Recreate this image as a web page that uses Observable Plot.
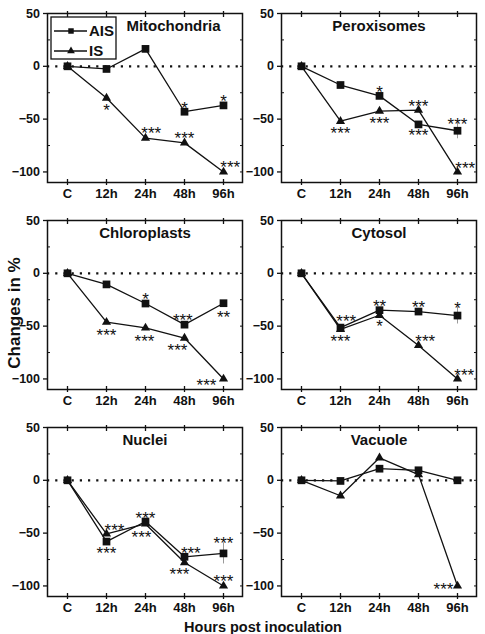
<!DOCTYPE html>
<html>
<head>
<meta charset="utf-8">
<script src="https://cdn.jsdelivr.net/npm/d3@7"></script>
<script src="https://cdn.jsdelivr.net/npm/@observablehq/plot@0.6"></script>
<style>
  html, body { margin: 0; padding: 0; background: #fff; }
  #figure { position: relative; width: 485px; height: 634px; overflow: hidden;
            font-family: "Liberation Sans", Arial, sans-serif; color: #111; }
  #figure svg { position: absolute; max-width: none; }
</style>
</head>
<body>
<div id="figure"></div>
<script>
// ---- data: % change relative to control (C) ----
const times = ["C", "12h", "24h", "48h", "96h"];
const seriesNames = ["AIS", "IS"];
const panelNames = ["Mitochondria", "Peroxisomes", "Chloroplasts", "Cytosol", "Nuclei", "Vacuole"];
const yTicks = [50, 0, -50, -100];
const yMinorTicks = [25, -25, -75];

const mitochondriaAIS = [0, -2.5, 16.5, -43, -37];
const mitochondriaIS  = [0, -30, -68, -72.5, -100];
const peroxisomesAIS  = [0, -17.7, -28, -55, -61];
const peroxisomesIS   = [0, -52, -42.4, -41.5, -100];
const chloroplastsAIS = [0, -10.5, -28.6, -48.6, -28.3];
const chloroplastsIS  = [0, -46.3, -51.7, -61.3, -100];
const cytosolAIS      = [0, -51.4, -34.9, -36.2, -40];
const cytosolIS       = [0, -53, -39.7, -68.3, -100];
const nucleiAIS       = [0, -58, -39, -72.4, -69.2];
const nucleiIS        = [0, -50.8, -41.3, -77.8, -100];
const vacuoleAIS      = [0, -0.6, 11, 9.5, 0];
const vacuoleIS       = [0, -14.6, 21.3, 5.4, -100];

// standard deviations of AIS (only those wider than the markers)
const mitochondriaAISsd = [0, 0, 0, 0, 0];
const peroxisomesAISsd  = [0, 0, 0, 0, 7.6];
const chloroplastsAISsd = [0, 0, 0, 0, 0];
const cytosolAISsd      = [0, 0, 0, 0, 8];
const nucleiAISsd       = [0, 0, 0, 0, 10];
const vacuoleAISsd      = [0, 0, 0, 0, 0];

// significance marks: [series, time, stars]
const mitochondriaStars = [["IS","12h","*"],["AIS","48h","*"],["AIS","96h","*"],["IS","24h","***"],["IS","48h","***"],["IS","96h","***"]];
const peroxisomesStars  = [["AIS","24h","*"],["AIS","48h","***"],["IS","48h","***"],["IS","12h","***"],["IS","24h","***"],["AIS","96h","***"],["IS","96h","***"]];
const chloroplastsStars = [["AIS","24h","*"],["AIS","48h","***"],["AIS","96h","**"],["IS","12h","***"],["IS","24h","***"],["IS","48h","***"],["IS","96h","***"]];
const cytosolStars      = [["AIS","12h","***"],["IS","12h","***"],["AIS","24h","**"],["IS","24h","*"],["AIS","48h","**"],["AIS","96h","*"],["IS","48h","***"],["IS","96h","***"]];
const nucleiStars       = [["IS","12h","***"],["AIS","12h","***"],["AIS","24h","***"],["IS","24h","***"],["AIS","48h","***"],["IS","48h","***"],["AIS","96h","***"],["IS","96h","***"]];
const vacuoleStars      = [["IS","96h","***"]];

// ---- layout ----
const FW = 195, FH = 169;            // inner frame size
const ML = 46, MR = 10, MT = 10, MB = 26;
const framePos = [[47, 13], [281, 13], [47, 220], [281, 220], [47, 427], [281, 427]];
const titleShift = [28.5, 0, 0, 0, 0, 0];
// star label offsets (px) from their marker
const starOffsets = [
  [[0,8.7],[0,-8],[0,-8.3],[5.7,-9],[0,-8.3],[6.7,-9]],
  [[0,-7.7],[0,7.3],[0,-8],[0,8.3],[0,8.3],[0,-11],[7.7,-7.3]],
  [[0,-8.3],[-1.7,-8.3],[0,9.7],[0,8.7],[-1,9],[-7,8],[-17,2.7]],
  [[5.7,-10],[0,7.7],[0,-8.3],[0,6.7],[0,-8.7],[0,-11.3],[6.7,-8.3],[6.7,-7.7]],
  [[8,-7.7],[0,7.3],[0,-7.7],[-4,9],[6.3,-7.7],[-5,7.7],[0,-14.3],[0,-8.3]],
  [[-14,-1]]
];
const STAR_SIZE = 17;
const STAR_LIFT = 0.255 * STAR_SIZE;   // asterisks sit high in the em box
const INK = "#111";

const aisSeries = [mitochondriaAIS, peroxisomesAIS, chloroplastsAIS, cytosolAIS, nucleiAIS, vacuoleAIS];
const isSeries  = [mitochondriaIS, peroxisomesIS, chloroplastsIS, cytosolIS, nucleiIS, vacuoleIS];
const aisSds    = [mitochondriaAISsd, peroxisomesAISsd, chloroplastsAISsd, cytosolAISsd, nucleiAISsd, vacuoleAISsd];
const starSets  = [mitochondriaStars, peroxisomesStars, chloroplastsStars, cytosolStars, nucleiStars, vacuoleStars];

const fig = document.getElementById("figure");
const noText = () => "";

function drawPanel(p) {
  const ais = aisSeries[p], is = isSeries[p];
  const rows = [];
  times.forEach((t, i) => {
    rows.push({series: seriesNames[0], time: t, value: ais[i]});
    rows.push({series: seriesNames[1], time: t, value: is[i]});
  });
  const valueOf = (s, t) => (s === "AIS" ? ais : is)[times.indexOf(t)];
  const sdRows = times.map((t, i) => ({time: t, value: ais[i], sd: aisSds[p][i]})).filter(d => d.sd > 0);

  const starMarks = starSets[p].map(([s, t, label], k) =>
    Plot.text([{time: t, value: valueOf(s, t), label}], {
      x: "time", y: "value", text: "label",
      dx: starOffsets[p][k][0], dy: starOffsets[p][k][1] + STAR_LIFT,
      fontSize: STAR_SIZE, fill: INK
    }));

  const svg = Plot.plot({
    width: ML + FW + MR,
    height: MT + FH + MB,
    marginLeft: ML, marginRight: MR, marginTop: MT, marginBottom: MB,
    x: {type: "point", domain: times, padding: 0.5, label: null},
    y: {domain: [-110, 50], label: null},
    style: {fontFamily: '"Liberation Sans", Arial, sans-serif', color: INK, background: "transparent", overflow: "visible"},
    marks: [
      Plot.ruleY([0], {stroke: INK, strokeWidth: 2.2, strokeDasharray: "2.2,6"}),
      Plot.ruleX(sdRows, {x: "time", y1: d => d.value - d.sd, y2: d => d.value + d.sd, stroke: "#9a9a9a", strokeWidth: 1}),
      Plot.line(rows, {x: "time", y: "value", z: "series", stroke: INK, strokeWidth: 1.3}),
      Plot.dot(rows.filter(d => d.series === "AIS"), {x: "time", y: "value", symbol: "square", r: 4.35, fill: INK, stroke: "none"}),
      Plot.dot(rows.filter(d => d.series === "IS"), {x: "time", y: "value", symbol: "triangle", r: 3.4, fill: INK, stroke: "none"}),
      ...starMarks,
      Plot.text([panelNames[p]], {frameAnchor: "top", lineAnchor: "top", dy: 6.5, dx: titleShift[p],
        fontSize: 15, fontWeight: "bold", fill: INK}),
      Plot.frame({stroke: INK, strokeWidth: 1.5}),
      // y axis: labelled major ticks outside, minor ticks inside, right-side ticks inside
      Plot.axisY({anchor: "left", ticks: yTicks, tickSize: 4, tickPadding: 3.5, fontSize: 12.5, fontWeight: "bold", label: null, strokeWidth: 1.3}),
      Plot.axisY({anchor: "left", ticks: yMinorTicks, tickSize: 3, dx: 3, tickFormat: noText, label: null}),
      Plot.axisY({anchor: "right", ticks: [...yTicks, ...yMinorTicks], tickSize: 3, dx: -3, tickFormat: noText, label: null}),
      // x axis: ticks crossing the top and bottom frame lines
      Plot.axisX({anchor: "top", tickSize: 6, dy: 3, tickFormat: noText, label: null, strokeWidth: 1.3}),
      Plot.axisX({anchor: "bottom", tickSize: 6, dy: -3, tickFormat: noText, label: null, strokeWidth: 1.3}),
      Plot.axisX({anchor: "bottom", tickSize: 0, tickPadding: 6, fontSize: 13, fontWeight: "bold", label: null})
    ]
  });
  svg.style.left = (framePos[p][0] - ML) + "px";
  svg.style.top = (framePos[p][1] - MT) + "px";
  fig.appendChild(svg);
}

panelNames.forEach((_, p) => drawPanel(p));

// ---- shared axis titles and legend ----
const over = d3.create("svg")
  .attr("width", 485).attr("height", 634)
  .style("left", "0px").style("top", "0px")
  .attr("font-family", '"Liberation Sans", Arial, sans-serif');

over.append("text")
  .attr("transform", "translate(19.5,313) rotate(-90)")
  .attr("text-anchor", "middle")
  .attr("font-size", 17).attr("font-weight", "bold").attr("fill", INK)
  .text("Changes in %");

over.append("text")
  .attr("x", 263).attr("y", 632)
  .attr("text-anchor", "middle")
  .attr("font-size", 14.5).attr("font-weight", "bold").attr("fill", INK)
  .text("Hours post inoculation");

const legend = over.append("g");
legend.append("rect")
  .attr("x", 51).attr("y", 17).attr("width", 65).attr("height", 42)
  .attr("fill", "#fff").attr("stroke", INK).attr("stroke-width", 1.3);
const legendSymbols = [d3.symbolSquare, d3.symbolTriangle];
const legendSizes = [30, 26];
seriesNames.forEach((name, i) => {
  const y = 31 + i * 20;
  legend.append("line").attr("x1", 54).attr("x2", 87).attr("y1", y).attr("y2", y)
    .attr("stroke", INK).attr("stroke-width", 1.3);
  legend.append("path").attr("transform", `translate(71,${y})`)
    .attr("d", d3.symbol(legendSymbols[i], legendSizes[i])()).attr("fill", INK);
  legend.append("text").attr("x", 89).attr("y", y + 5.3)
    .attr("font-size", 15).attr("font-weight", "bold").attr("fill", INK)
    .text(name);
});

fig.appendChild(over.node());
</script>
</body>
</html>
